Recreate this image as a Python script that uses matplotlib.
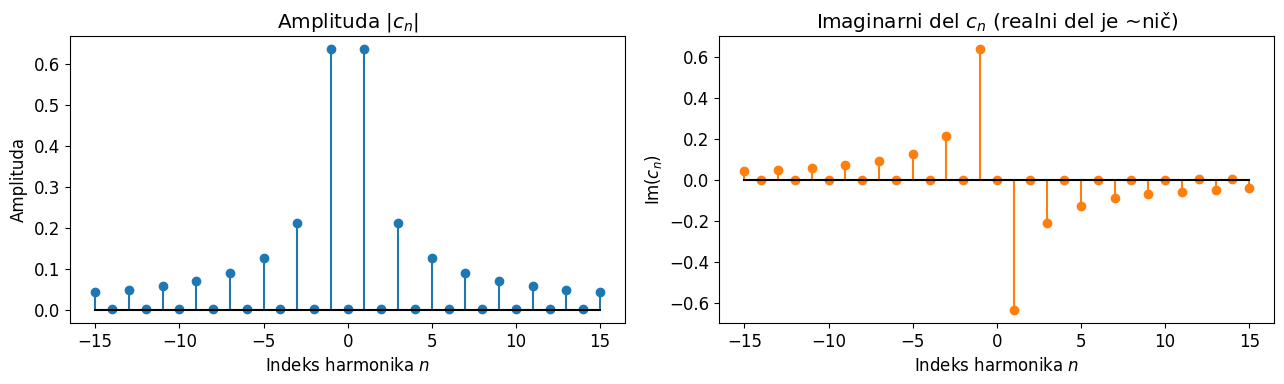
import numpy as np
import matplotlib
matplotlib.use("Agg")
import matplotlib.pyplot as plt

# harmonic indices
n = np.arange(-15, 16)

# |c_n| (odd n carry the energy, even n ~ 0)
amplituda = [0.044, 0.004, 0.050, 0.004, 0.059, 0.004, 0.071, 0.004,
             0.090, 0.004, 0.127, 0.004, 0.212, 0.004, 0.637, 0.004,
             0.637, 0.004, 0.212, 0.004, 0.127, 0.004, 0.090, 0.004,
             0.071, 0.004, 0.059, 0.004, 0.050, 0.004, 0.044]

# Im(c_n)
imag = [0.042, -0.003, 0.049, -0.003, 0.058, -0.003, 0.071, -0.003,
        0.091, -0.003, 0.127, -0.003, 0.212, -0.003, 0.637, -0.003,
        -0.637, -0.003, -0.212, -0.003, -0.127, -0.003, -0.091, -0.003,
        -0.071, -0.003, -0.058, 0.004, -0.049, 0.004, -0.042]

plt.rcParams['font.size'] = 12

fig, (ax1, ax2) = plt.subplots(1, 2, figsize=(12.84, 3.84), dpi=100)
fig.subplots_adjust(left=0.0545, right=0.9926, top=0.906, bottom=0.158,
                    wspace=0.169)

ax1.stem(n, amplituda, linefmt='C0-', markerfmt='C0o', basefmt='k-')
ax1.set_title(r'Amplituda $|c_n|$')
ax1.set_xlabel(r'Indeks harmonika $n$')
ax1.set_ylabel('Amplituda')

ax2.stem(n, imag, linefmt='C1-', markerfmt='C1o', basefmt='k-')
ax2.set_title(r'Imaginarni del $c_n$ (realni del je ~nič)')
ax2.set_xlabel(r'Indeks harmonika $n$')
ax2.set_ylabel(r'Im$(c_n)$')

plt.savefig('out.png')
